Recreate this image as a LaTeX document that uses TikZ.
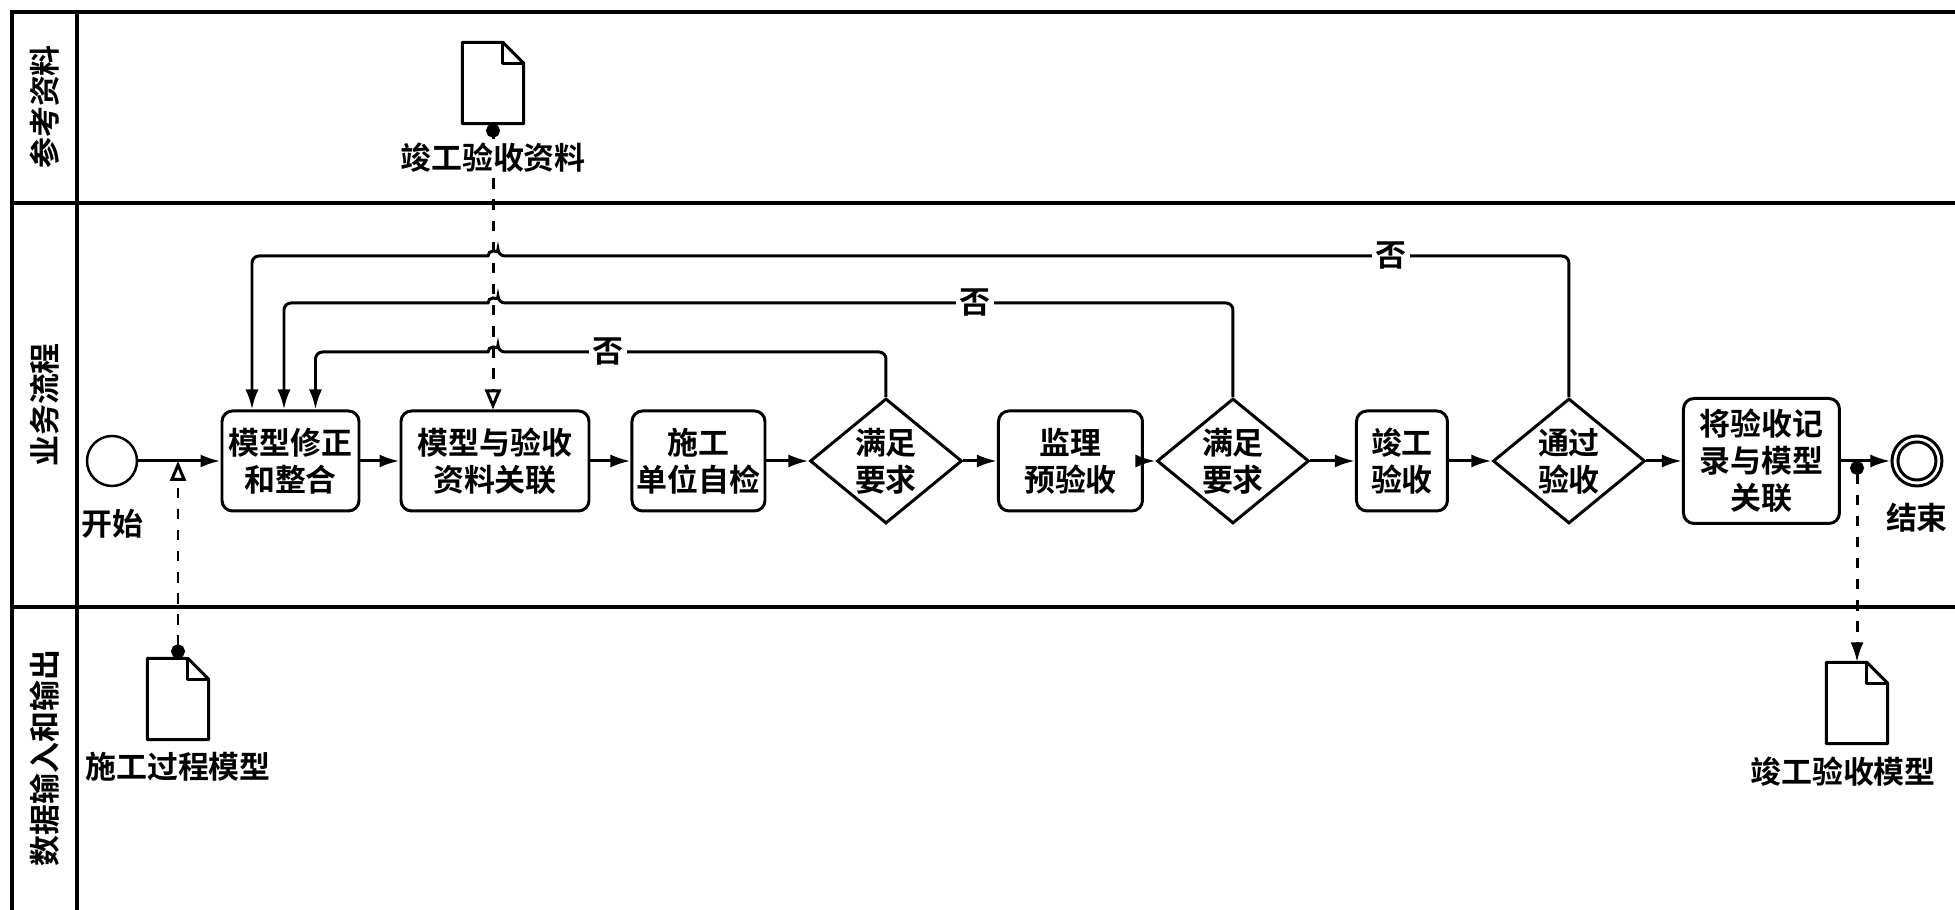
\documentclass[tikz,border=0pt]{standalone}
\usepackage{fontspec}
\setmainfont{Noto Sans CJK SC}[BoldFont={Noto Sans CJK SC Bold}]
\usetikzlibrary{positioning,shapes.geometric,arrows.meta}

\newcommand{\docfile}[2]{%
  \node[minimum width=.6cm,minimum height=.8cm,inner sep=0pt] (#1) at (#2) {};
  \draw[line width=.85pt,line join=round] (#1.north west) -- ([xshift=-.21cm]#1.north east) -- ([yshift=-.21cm]#1.north east) -- (#1.south east) -- (#1.south west) -- cycle;
  \draw[line width=.85pt,line join=round] ([xshift=-.21cm]#1.north east) |- ([yshift=-.21cm]#1.north east);
}

\begin{document}
\begin{tikzpicture}[
    every node/.style={font=\fontsize{8.8pt}{10.5pt}\selectfont\bfseries},
    task/.style={rectangle,rounded corners=3pt,draw,line width=.85pt,align=center,minimum height=1cm,inner sep=1pt},
    gate/.style={diamond,draw,line width=.85pt,align=center,aspect=1.22,inner sep=0pt,minimum width=1.52cm,minimum height=1.25cm},
    flow/.style={-{Latex[length=2mm,width=1.3mm]},line width=.85pt},
    assoc/.style={dashed,line width=.85pt,{Circle[length=1.4mm]}-{Triangle[open,length=2mm,width=1.6mm]}},
    lane/.style={line width=1.2pt},
    nolabel/.style={fill=white,inner sep=1pt}]
    \useasboundingbox (0,0) rectangle (19.55,9.10);
    % lanes
    \draw[lane] (0.12,0) -- (0.12,8.98) -- (19.55,8.98);
    \draw[lane] (0.77,0) -- (0.77,8.98);
    \draw[lane] (0.12,7.07) -- (19.55,7.07);
    \draw[lane] (0.12,3.03) -- (19.55,3.03);
    \node[rotate=90] (lane_ref) at (0.45,8.03) {参考资料};
    \node[rotate=90] (lane_biz) at (0.45,5.05) {业务流程};
    \node[rotate=90] (lane_data) at (0.45,1.52) {数据输入和输出};

    % main flow
    \node[circle,draw,line width=.7pt,minimum size=.5cm,inner sep=0pt] (s) at (1.12,4.49) {};
    \node[below=.1cm] (s_l) at (s.south) {开始};
    \node[task,right=1.085cm,minimum width=1.37cm] (m1) at (s) {模型修正\\和整合};
    \node[task,right=1.09cm,minimum width=1.88cm] (m2) at (m1) {模型与验收\\资料关联};
    \node[task,right=1.355cm,minimum width=1.33cm] (m3) at (m2) {施工\\单位自检};
    \node[gate,right=1.10cm] (d1) at (m3) {满足\\要求};
    \node[task,right=1.11cm,minimum width=1.44cm] (m4) at (d1) {监理\\预验收};
    \node[gate,right=.85cm] (d2) at (m4) {满足\\要求};
    \node[task,right=1.22cm,minimum width=.91cm] (m5) at (d2) {竣工\\验收};
    \node[gate,right=.895cm] (d3) at (m5) {通过\\验收};
    \node[task,right=1.13cm,minimum width=1.56cm,minimum height=1.25cm] (m6) at (d3) {将验收记\\录与模型\\关联};
    \node[circle,draw,line width=.85pt,minimum size=.5cm,inner sep=0pt,right=1.29cm] (e) at (m6) {};
    \draw[line width=.85pt] (e) circle (.19cm);
    \node[below=.03cm] (e_l) at (e.south) {结束};

    \draw[flow] (s) -- (m1);
    \draw[flow] (m1) -- (m2);
    \draw[flow] (m2) -- (m3);
    \draw[flow] (m3) -- (d1);
    \draw[flow] (d1) -- (m4);
    \draw[flow] (m4) -- (d2);
    \draw[flow] (d2) -- (m5);
    \draw[flow] (m5) -- (d3);
    \draw[flow] (d3) -- (m6);
    \draw[flow] (m6) -- (e);

    % documents
    \docfile{doc1}{4.93,8.27}
    \docfile{doc2}{1.78,2.11}
    \docfile{doc3}{18.57,2.07}
    \coordinate (in) at (doc2.north |- s.east);
    \coordinate (out) at (doc3.north |- m6.east);
    \draw[assoc] (doc1.south) -- (doc1.south |- m2.north);
    \draw[assoc] (doc2.north) -- (in);
    \draw[dashed,line width=.85pt,{Circle[length=1.4mm]}-{Latex[length=2mm,width=1.3mm]}] (out) -- (doc3.north);
    \node[below=.15cm,fill=white,inner sep=1pt] (doc1_l) at (doc1.south) {竣工验收资料};
    \node[below=.08cm,inner sep=1pt] (doc2_l) at (doc2.south) {施工过程模型};
    \node[below=.09cm,xshift=-.14cm,inner sep=1pt] (doc3_l) at (doc3.south) {竣工验收模型};

    % loops back
    \coordinate (lv1) at (0,5.58);
    \coordinate (lv2) at (0,6.07);
    \coordinate (lv3) at (0,6.54);
    \draw[flow] (d1.north) [rounded corners=2pt] |- ([xshift=.05cm]doc1.south |- lv1) [sharp corners] arc[start angle=0,end angle=180,radius=.05cm] -- ([xshift=-.1cm]doc1.south |- lv1) [rounded corners=2pt] -| ([xshift=.25cm]m1.north);
    \draw[flow] (d2.north) [rounded corners=2pt] |- ([xshift=.05cm]doc1.south |- lv2) [sharp corners] arc[start angle=0,end angle=180,radius=.05cm] -- ([xshift=-.1cm]doc1.south |- lv2) [rounded corners=2pt] -| ([xshift=-.065cm]m1.north);
    \draw[flow] (d3.north) [rounded corners=2pt] |- ([xshift=.05cm]doc1.south |- lv3) [sharp corners] arc[start angle=0,end angle=180,radius=.05cm] -- ([xshift=-.1cm]doc1.south |- lv3) [rounded corners=2pt] -| ([xshift=-.385cm]m1.north);
    \node[nolabel] (no1) at (6.08,5.58) {否};
    \node[nolabel] (no2) at (9.75,6.07) {否};
    \node[nolabel] (no3) at (13.91,6.54) {否};
\end{tikzpicture}
\end{document}
